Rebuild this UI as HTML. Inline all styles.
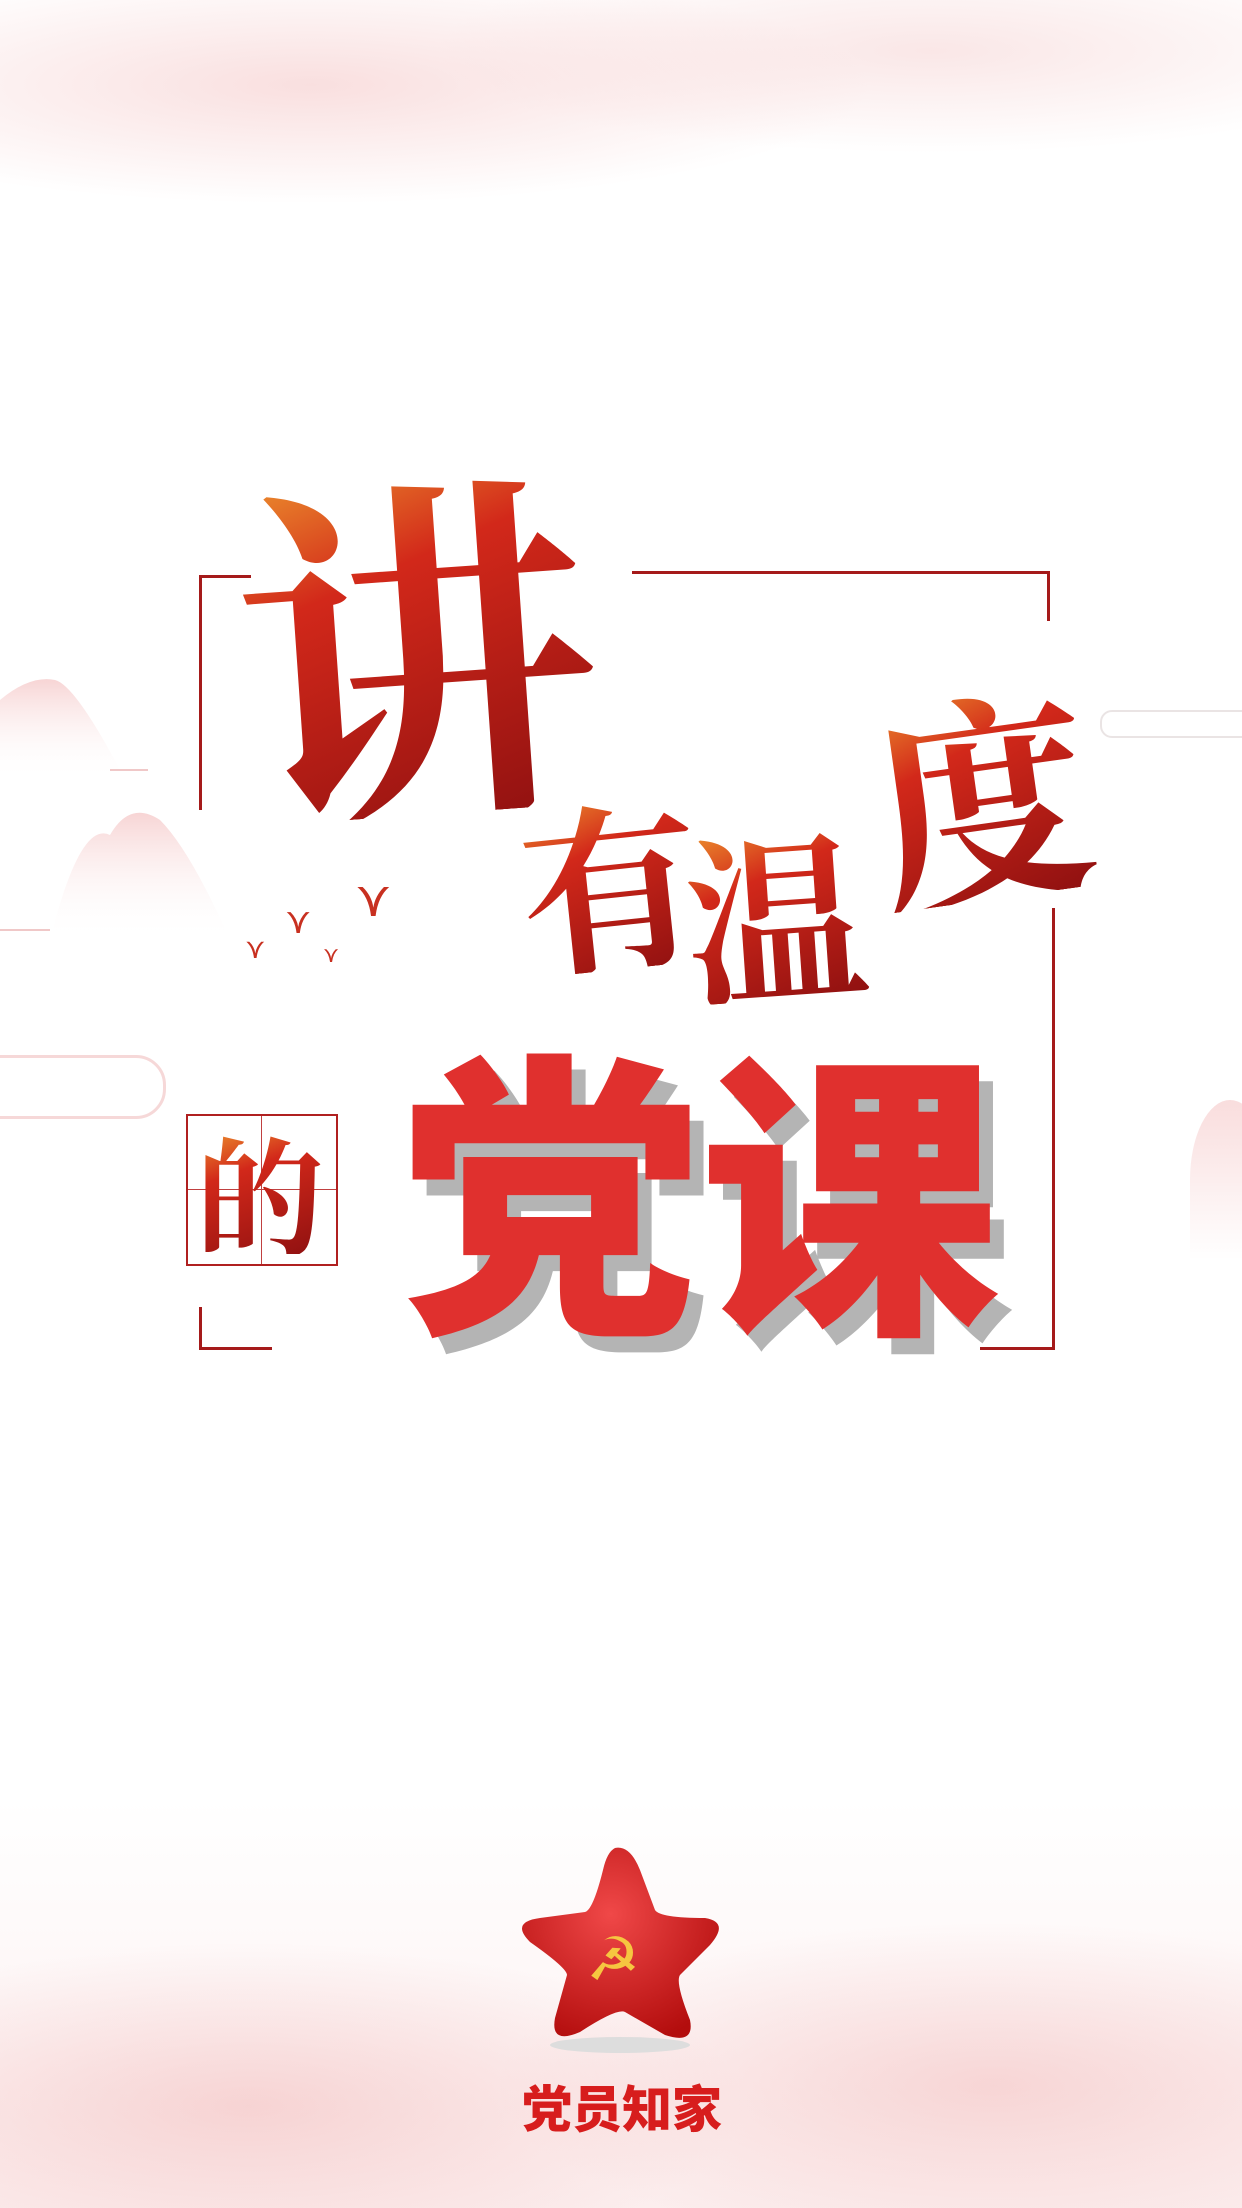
<!DOCTYPE html>
<html><head><meta charset="utf-8">
<style>
html,body{margin:0;padding:0;}
body{width:1242px;height:2208px;overflow:hidden;background:#fff;font-family:"Liberation Sans","Noto Sans CJK SC",sans-serif;}
#wrap{position:relative;width:1242px;height:2208px;overflow:hidden;}
.abs{position:absolute;}
.line{position:absolute;background:#a51a1a;}
.cal{position:absolute;font-family:"Noto Serif CJK SC","WenQuanYi Zen Hei",serif;font-weight:700;color:transparent;background:linear-gradient(160deg,#f0a030 0%,#d2281a 35%,#8e1010 100%);-webkit-background-clip:text;background-clip:text;line-height:1;}
.big{position:absolute;font-family:"Noto Sans CJK SC",sans-serif;font-weight:900;font-size:300px;line-height:1;color:#e0302e;text-shadow:14px 16px 0 #b4b4b4;}
</style></head><body>
<div id="wrap">
<div class="abs" style="left:0;top:0;width:1242px;height:340px;background:radial-gradient(ellipse 45% 35% at 25% 25%,rgba(240,175,175,0.4),rgba(255,255,255,0)),radial-gradient(ellipse 40% 30% at 75% 15%,rgba(240,185,185,0.35),rgba(255,255,255,0));"></div>
<div class="abs" style="left:0;top:1800px;width:1242px;height:408px;background:radial-gradient(ellipse 40% 40% at 20% 75%,rgba(238,165,165,0.4),rgba(255,255,255,0)),radial-gradient(ellipse 40% 40% at 80% 70%,rgba(238,165,165,0.38),rgba(255,255,255,0)),linear-gradient(180deg,rgba(255,255,255,0),rgba(245,205,205,0.35));"></div>
<svg class="abs" style="left:0;top:670px;" width="260" height="290">
<defs><linearGradient id="m" x1="0" y1="0" x2="0" y2="1"><stop offset="0" stop-color="#f2b8b8" stop-opacity="0.6"/><stop offset="1" stop-color="#fff" stop-opacity="0"/></linearGradient></defs>
<path d="M0 30 Q30 5 55 10 Q75 15 120 100 L0 110Z" fill="url(#m)"/>
<line x1="110" y1="100" x2="148" y2="100" stroke="#f0c8c8" stroke-width="2"/>
<path d="M50 270 Q80 150 110 165 Q130 130 160 150 Q190 180 230 270Z" fill="url(#m)"/>
<line x1="0" y1="260" x2="50" y2="260" stroke="#f0c8c8" stroke-width="2"/>
</svg>
<div class="abs" style="left:-40px;top:1055px;width:200px;height:58px;border:3px solid rgba(240,190,190,0.6);border-radius:30px;"></div>
<div class="abs" style="left:1100px;top:710px;width:180px;height:24px;border:2px solid rgba(220,210,210,0.6);border-radius:12px;"></div>
<div class="abs" style="left:1190px;top:1100px;width:80px;height:160px;background:linear-gradient(180deg,rgba(240,170,170,0.4),rgba(255,255,255,0));border-radius:50% 50% 0 0;"></div>

<div class="line" style="left:199px;top:575px;width:52px;height:3px;"></div>
<div class="line" style="left:199px;top:575px;width:3px;height:235px;"></div>
<div class="line" style="left:632px;top:571px;width:418px;height:3px;"></div>
<div class="line" style="left:1047px;top:571px;width:3px;height:50px;"></div>
<div class="line" style="left:1052px;top:908px;width:3px;height:442px;"></div>
<div class="line" style="left:980px;top:1347px;width:75px;height:3px;"></div>
<div class="line" style="left:199px;top:1307px;width:3px;height:43px;"></div>
<div class="line" style="left:199px;top:1347px;width:73px;height:3px;"></div>

<div class="cal" style="left:235px;top:455px;font-size:360px;transform:rotate(-4deg);">讲</div>
<div class="cal" style="left:520px;top:790px;font-size:180px;transform:rotate(-6deg);">有</div>
<div class="cal" style="left:685px;top:820px;font-size:180px;transform:rotate(-4deg);">温</div>
<div class="cal" style="left:870px;top:680px;font-size:220px;transform:rotate(-8deg);">度</div>
<div class="abs" style="left:245px;top:870px;color:#c83020;font-size:36px;">
<span style="position:absolute;left:110px;top:0;font-size:50px;">⋎</span><span style="position:absolute;left:40px;top:30px;">⋎</span><span style="position:absolute;left:0;top:62px;font-size:28px;">⋎</span><span style="position:absolute;left:78px;top:72px;font-size:22px;">⋎</span></div>

<div class="abs" style="left:186px;top:1114px;width:148px;height:148px;border:2px solid #b02020;">
<div class="abs" style="left:73px;top:0;width:1px;height:148px;background:#c04040;"></div>
<div class="abs" style="left:0;top:73px;width:148px;height:1px;background:#c04040;"></div>
<div class="cal" style="left:8px;top:10px;font-size:128px;">的</div>
</div>

<div class="big" style="left:400px;top:1030px;">党</div>
<div class="big" style="left:700px;top:1030px;">课</div>

<svg class="abs" style="left:505px;top:1840px;" width="230" height="220" viewBox="0 0 230 220">
<defs><radialGradient id="g" cx="45%" cy="35%" r="70%"><stop offset="0" stop-color="#f04848"/><stop offset="1" stop-color="#b30d0d"/></radialGradient></defs>
<ellipse cx="115" cy="205" rx="70" ry="8" fill="#ddd"/>
<path d="M110 8 Q125 5 135 30 L150 70 Q155 78 200 78 Q225 82 205 105 L175 135 Q170 142 185 180 Q190 205 160 195 L120 172 Q112 168 75 192 Q45 205 50 178 L62 135 Q62 128 25 102 Q5 82 35 78 L80 72 Q88 70 98 30 Q102 12 110 8Z" fill="url(#g)"/>
<text x="108" y="140" font-size="60" fill="#f6c640" text-anchor="middle" font-family="DejaVu Sans">☭</text>
</svg>
<div class="abs" style="left:512px;top:2070px;width:220px;text-align:center;font-family:'Noto Sans CJK SC',sans-serif;font-weight:900;font-size:50px;color:#d71d1d;">党员知家</div>
</div>
</body></html>
